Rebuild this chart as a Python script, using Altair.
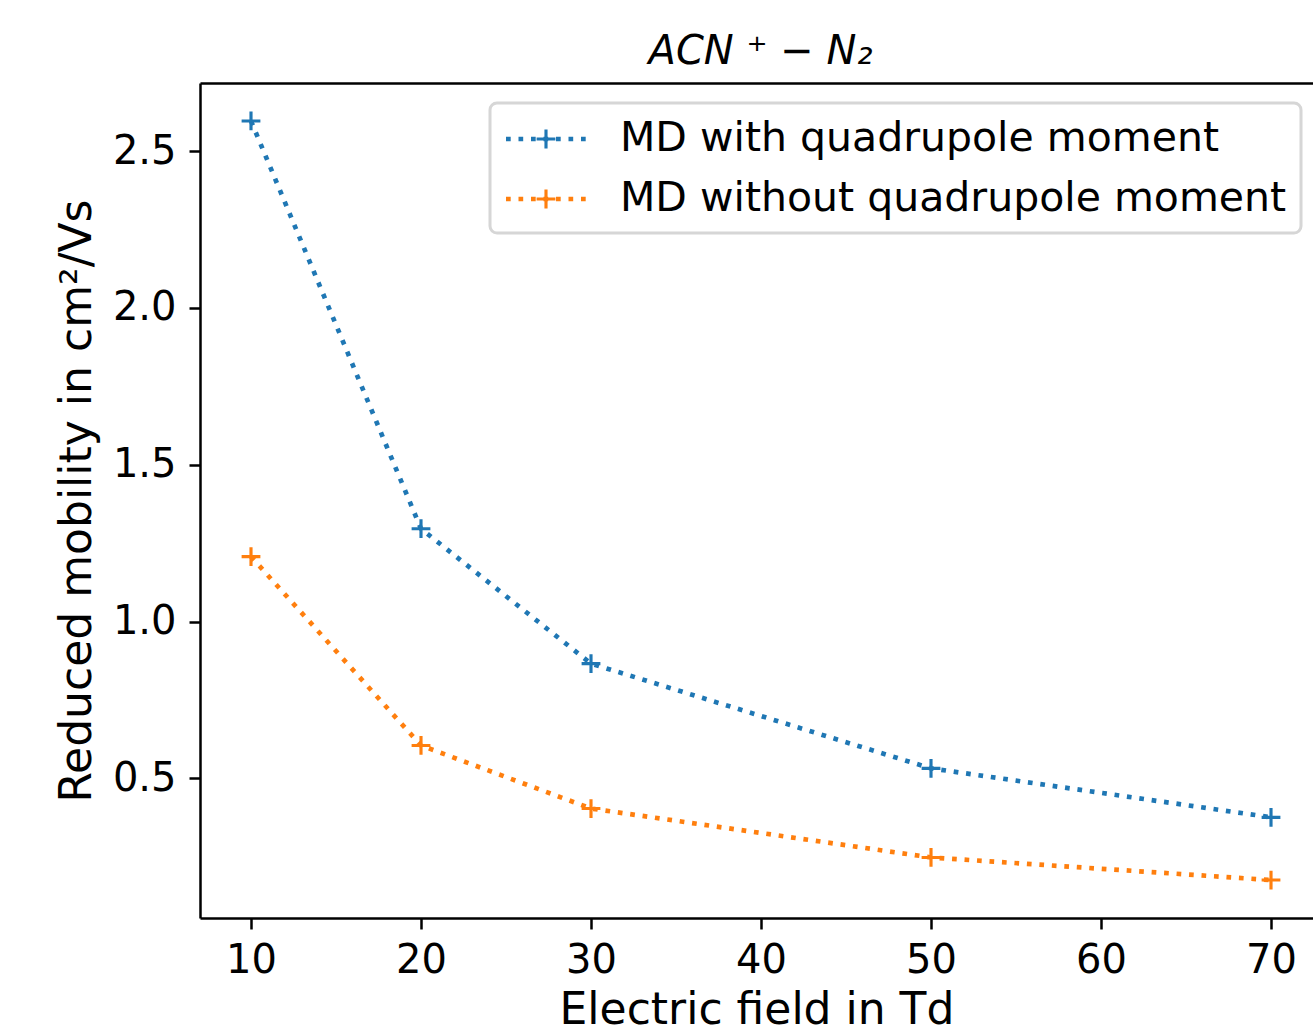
import altair as alt
import pandas as pd

# ---- data ----
fields = [10, 20, 30, 50, 70]
with_quad = [2.596, 1.296, 0.866, 0.532, 0.376]
without_quad = [1.207, 0.605, 0.404, 0.248, 0.176]
series_names = ["MD with quadrupole moment", "MD without quadrupole moment"]
series_colors = ["#1f77b4", "#ff7f0e"]
x_ticks = [10, 20, 30, 40, 50, 60, 70]
y_ticks = [0.5, 1.0, 1.5, 2.0, 2.5]

rows = []
for f, v in zip(fields, with_quad):
    rows.append({"field": f, "mobility": v, "series": series_names[0]})
for f, v in zip(fields, without_quad):
    rows.append({"field": f, "mobility": v, "series": series_names[1]})
df = pd.DataFrame(rows)

FONT = "DejaVu Sans"
PLUS = "M-1,0H1M0,-1V1"

# legend handle: dotted line with a '+' in the middle (unit coords, 1 unit = 20px)
U = 20.0
parts = []
for i in range(7):
    c = (-20 + 12.5 * i + 2.35) / U
    h = 0.78 / U
    parts.append(f"M{c - h:.4f},{-h:.4f}H{c + h:.4f}V{h:.4f}H{c - h:.4f}Z")
cx = 20 / U
arm = 9.4 / U
parts.append(f"M{cx - arm:.4f},0H{cx + arm:.4f}M{cx:.4f},{-arm:.4f}V{arm:.4f}")
LEGEND_PATH = "".join(parts)

xscale = alt.Scale(domain=[7, 72.47], nice=False, zero=False)
yscale = alt.Scale(domain=[0.055, 2.717], nice=False, zero=False)
cscale = alt.Scale(domain=series_names, range=series_colors)

legend = alt.Legend(title=None, orient="none", legendX=290, legendY=20,
                    symbolType=LEGEND_PATH, symbolSize=1600,
                    symbolStrokeWidth=3.14, symbolFillColor="transparent",
                    labelOffset=72, rowPadding=18, padding=14,
                    labelLimit=2000)

base = alt.Chart(df)

line = base.mark_line(strokeDash=[4.7, 7.8], strokeWidth=4.7, strokeCap="butt").encode(
    x=alt.X("field:Q", scale=xscale,
            axis=alt.Axis(values=x_ticks, format="d", title="Electric field in Td",
                          labelPadding=11, titlePadding=8)),
    y=alt.Y("mobility:Q", scale=yscale,
            axis=alt.Axis(values=y_ticks, format=".1f", title="Reduced mobility in cm²/Vs",
                          labelPadding=13, titlePadding=13)),
    color=alt.Color("series:N", scale=cscale, legend=legend),
)

points = base.mark_point(shape=PLUS, size=353, strokeWidth=3.14, filled=False, opacity=1).encode(
    x=alt.X("field:Q", scale=xscale,
            axis=alt.Axis(orient="top", labels=False, ticks=False, domain=True, title=None)),
    y=alt.Y("mobility:Q", scale=yscale),
    color=alt.Color("series:N", scale=cscale, legend=legend),
)

chart = alt.layer(line, points).resolve_axis(x="independent").properties(
    width=1113,
    height=835,
    autosize=alt.AutoSizeParams(type="none"),
    padding={"left": 200, "top": 83, "right": 0, "bottom": 113},
    title=alt.TitleParams(text="ACN ⁺ − N₂", fontStyle="italic", font=FONT, fontSize=40,
                          fontWeight="normal", color="black", baseline="alphabetic",
                          offset=20, dx=4, dy=41, anchor="middle", frame="group"),
).configure(
    font=FONT,
    background="white",
).configure_view(
    stroke=None,
).configure_axis(
    grid=False,
    labelFont=FONT, titleFont=FONT,
    labelFontSize=40, titleFontSize=44,
    titleFontWeight="normal",
    labelColor="black", titleColor="black",
    domainColor="black", tickColor="black",
    domainWidth=2.5, tickWidth=2.5, tickSize=11,
    labelFlush=False,
    labelOverlap=False,
).configure_legend(
    labelFont=FONT, labelFontSize=41, labelColor="black",
    strokeColor="#d6d6d6", strokeWidth=3, cornerRadius=7,
    fillColor="rgba(255,255,255,0.8)",
)

chart.save("out.html", embed_options={"renderer": "svg", "actions": False})
